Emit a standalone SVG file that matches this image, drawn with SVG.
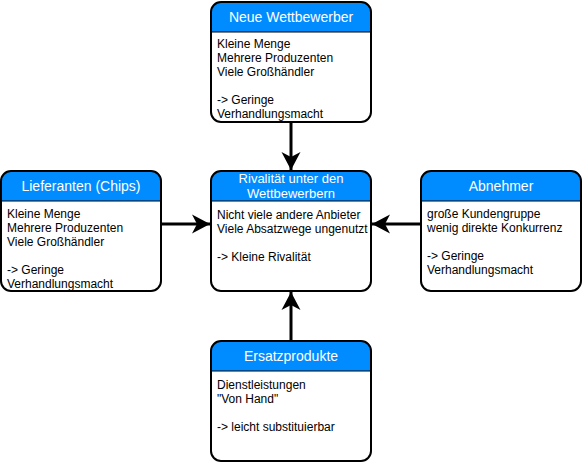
<svg xmlns="http://www.w3.org/2000/svg" width="582" height="462" viewBox="0 0 582 462">
<style>
.hdr{fill:#008cff;stroke:none}
.box{fill:none;stroke:#000;stroke-width:2}
.bg{fill:#fff;stroke:none}
.sep{stroke:#000;stroke-width:1}
.ttl{font-family:"Liberation Sans",Arial,sans-serif;font-size:14px;fill:#fff;text-anchor:middle}
.txt{font-family:"Liberation Sans",Arial,sans-serif;font-size:12px;fill:#000}
.edge{stroke:#000;stroke-width:3;fill:none}
</style>
<defs>
<marker id="ah" markerUnits="userSpaceOnUse" markerWidth="20" markerHeight="20" viewBox="-19 -10 20 20" refX="0" refY="0" orient="auto">
<path d="M0,0 L-18,-9.5 L-13,0 L-18,9.5 Z" fill="#000"/>
</marker>
</defs>
<g id="edges">
<line class="edge" x1="291" y1="122" x2="291" y2="170" marker-end="url(#ah)"/>
<line class="edge" x1="161" y1="224" x2="210" y2="224" marker-end="url(#ah)"/>
<line class="edge" x1="421" y1="224" x2="372" y2="224" marker-end="url(#ah)"/>
<line class="edge" x1="291" y1="341" x2="291" y2="292" marker-end="url(#ah)"/>
</g>
<g id="neue-wettbewerber">
<rect class="bg" x="211" y="2" width="160" height="120" rx="10"/>
<path class="hdr" d="M211,32 V12 A10,10 0 0 1 221,2 H361 A10,10 0 0 1 371,12 V32 Z"/>
<line class="sep" x1="211" y1="32" x2="371" y2="32"/>
<rect class="box" x="211" y="2" width="160" height="120" rx="10"/>
<text class="ttl" x="291" y="22">Neue Wettbewerber</text>
<text class="txt" x="217" y="48">Kleine Menge</text>
<text class="txt" x="217" y="62">Mehrere Produzenten</text>
<text class="txt" x="217" y="76">Viele Großhändler</text>
<text class="txt" x="217" y="104">-&gt; Geringe</text>
<text class="txt" x="217" y="118">Verhandlungsmacht</text>
</g>
<g id="lieferanten">
<rect class="bg" x="1" y="171" width="160" height="120" rx="10"/>
<path class="hdr" d="M1,201 V181 A10,10 0 0 1 11,171 H151 A10,10 0 0 1 161,181 V201 Z"/>
<line class="sep" x1="1" y1="201" x2="161" y2="201"/>
<rect class="box" x="1" y="171" width="160" height="120" rx="10"/>
<text class="ttl" x="81" y="191">Lieferanten (Chips)</text>
<text class="txt" x="7" y="218">Kleine Menge</text>
<text class="txt" x="7" y="232">Mehrere Produzenten</text>
<text class="txt" x="7" y="246">Viele Großhändler</text>
<text class="txt" x="7" y="274">-&gt; Geringe</text>
<text class="txt" x="7" y="288">Verhandlungsmacht</text>
</g>
<g id="rivalitaet">
<rect class="bg" x="211" y="171" width="160" height="120" rx="10"/>
<path class="hdr" d="M211,201 V181 A10,10 0 0 1 221,171 H361 A10,10 0 0 1 371,181 V201 Z"/>
<line class="sep" x1="211" y1="201" x2="371" y2="201"/>
<rect class="box" x="211" y="171" width="160" height="120" rx="10"/>
<text class="ttl" x="291" y="183" style="font-size:13px">Rivalität unter den</text>
<text class="ttl" x="291" y="198" style="font-size:13px">Wettbewerbern</text>
<text class="txt" x="217" y="219">Nicht viele andere Anbieter</text>
<text class="txt" x="217" y="233">Viele Absatzwege ungenutzt</text>
<text class="txt" x="217" y="261">-&gt; Kleine Rivalität</text>
</g>
<g id="abnehmer">
<rect class="bg" x="421" y="171" width="160" height="120" rx="10"/>
<path class="hdr" d="M421,201 V181 A10,10 0 0 1 431,171 H571 A10,10 0 0 1 581,181 V201 Z"/>
<line class="sep" x1="421" y1="201" x2="581" y2="201"/>
<rect class="box" x="421" y="171" width="160" height="120" rx="10"/>
<text class="ttl" x="501" y="191">Abnehmer</text>
<text class="txt" x="427" y="218">große Kundengruppe</text>
<text class="txt" x="427" y="232">wenig direkte Konkurrenz</text>
<text class="txt" x="427" y="260">-&gt; Geringe</text>
<text class="txt" x="427" y="274">Verhandlungsmacht</text>
</g>
<g id="ersatzprodukte">
<rect class="bg" x="211" y="341" width="160" height="120" rx="10"/>
<path class="hdr" d="M211,371 V351 A10,10 0 0 1 221,341 H361 A10,10 0 0 1 371,351 V371 Z"/>
<line class="sep" x1="211" y1="371" x2="371" y2="371"/>
<rect class="box" x="211" y="341" width="160" height="120" rx="10"/>
<text class="ttl" x="291" y="361">Ersatzprodukte</text>
<text class="txt" x="217" y="389">Dienstleistungen</text>
<text class="txt" x="217" y="403">"Von Hand"</text>
<text class="txt" x="217" y="431">-&gt; leicht substituierbar</text>
</g>
</svg>
